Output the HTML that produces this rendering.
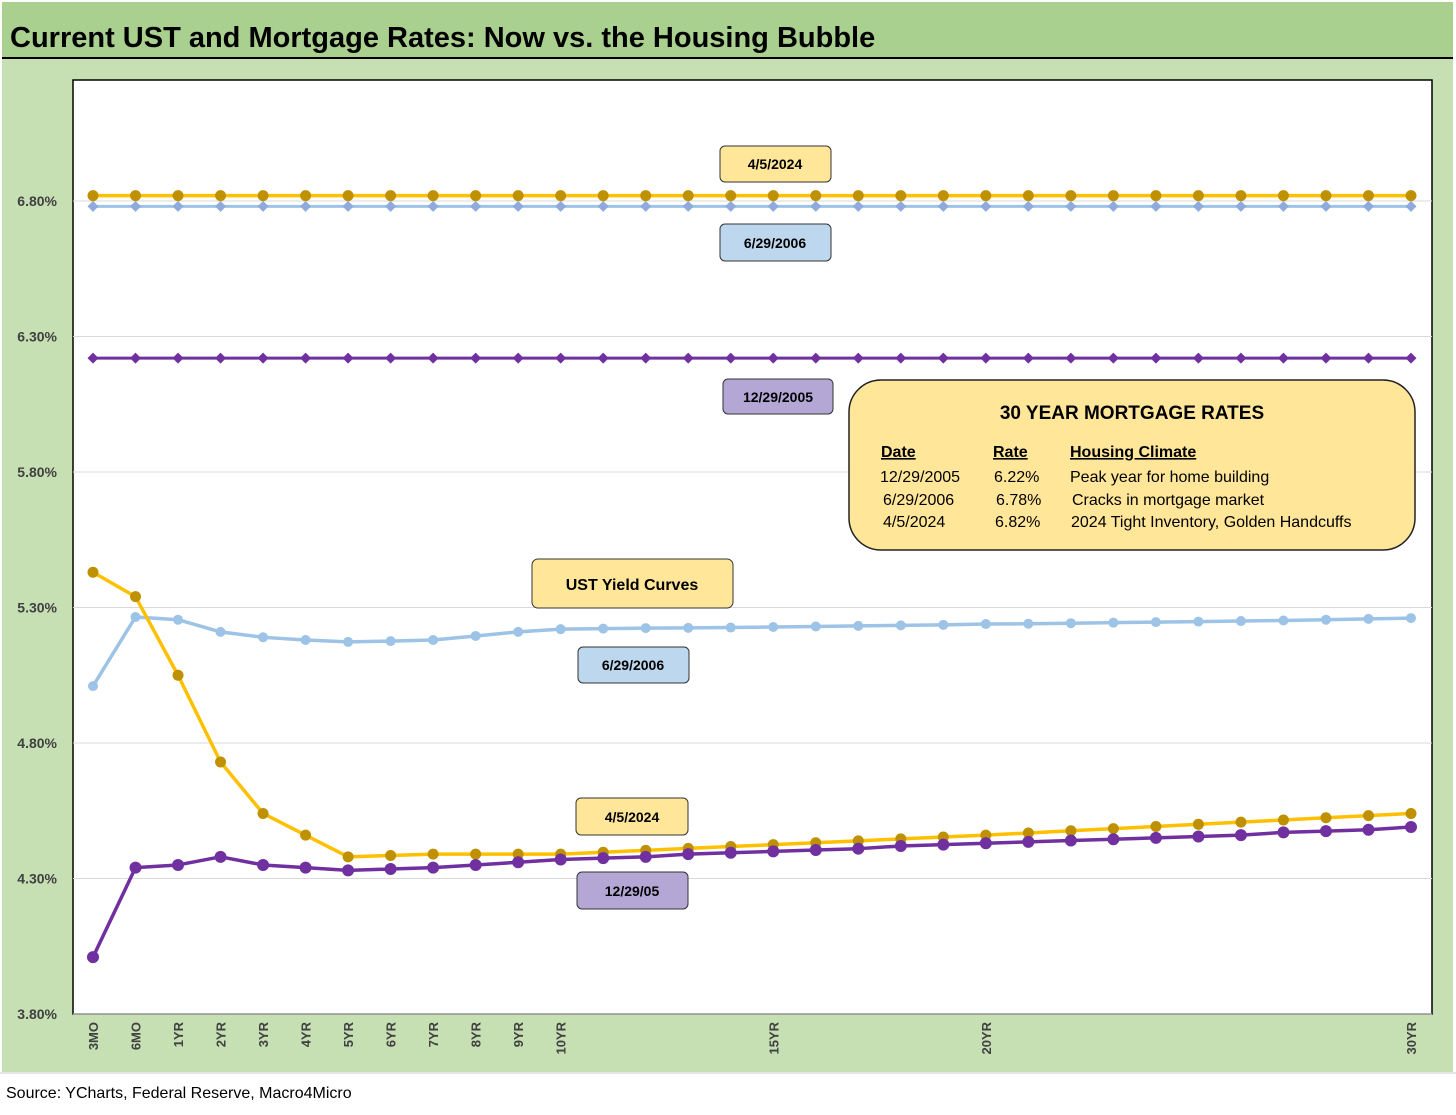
<!DOCTYPE html>
<html><head><meta charset="utf-8"><style>
body{margin:0;width:1456px;height:1110px;background:#fff;overflow:hidden;font-family:"Liberation Sans",sans-serif}
</style></head><body>
<svg width="1456" height="1110" xmlns="http://www.w3.org/2000/svg">
<rect x="2" y="2" width="1451" height="1070" fill="#c6e0b4"/>
<rect x="2" y="2" width="1451" height="55" fill="#a9d08e"/>
<line x1="2" y1="58" x2="1453" y2="58" stroke="#000" stroke-width="2"/>
<text x="10" y="47" font-size="29" font-weight="bold" fill="#000">Current UST and Mortgage Rates: Now vs. the Housing Bubble</text>
<rect x="73" y="80" width="1359" height="934" fill="#fff" stroke="#000" stroke-width="1.5"/>
<g id="grid"></g><g id="series"></g><g id="axes"></g>
<g font-size="14" font-weight="bold" text-anchor="middle">
<rect x="720" y="146" width="111" height="36" rx="5" fill="#ffe699" stroke="#333"/><text x="775" y="169">4/5/2024</text>
<rect x="720" y="224" width="111" height="37" rx="5" fill="#bdd7ee" stroke="#333"/><text x="775" y="248">6/29/2006</text>
<rect x="723" y="379" width="110" height="35" rx="5" fill="#b4a7d6" stroke="#333"/><text x="778" y="402">12/29/2005</text>
<rect x="532" y="559" width="201" height="49" rx="6" fill="#ffe699" stroke="#333"/><text x="632" y="590" font-size="16">UST Yield Curves</text>
<rect x="578" y="647" width="111" height="36" rx="5" fill="#bdd7ee" stroke="#333"/><text x="633" y="670">6/29/2006</text>
<rect x="576" y="798" width="112" height="37" rx="5" fill="#ffe699" stroke="#333"/><text x="632" y="822">4/5/2024</text>
<rect x="577" y="872" width="111" height="37" rx="5" fill="#b4a7d6" stroke="#333"/><text x="632" y="896">12/29/05</text>
</g>
<g font-size="16" fill="#000">
<rect x="849" y="380" width="566" height="170" rx="32" fill="#ffe699" stroke="#222" stroke-width="1.5"/>
<text x="1132" y="419" text-anchor="middle" font-size="19" font-weight="bold">30 YEAR MORTGAGE RATES</text>
<g font-weight="bold" text-decoration="underline"><text x="881" y="457">Date</text><text x="993" y="457">Rate</text><text x="1070" y="457">Housing Climate</text></g>
<text x="880" y="482">12/29/2005</text><text x="994" y="482">6.22%</text><text x="1070" y="482">Peak year for home building</text>
<text x="883" y="505">6/29/2006</text><text x="996" y="505">6.78%</text><text x="1072" y="505">Cracks in mortgage market</text>
<text x="883" y="527">4/5/2024</text><text x="995" y="527">6.82%</text><text x="1071" y="527">2024 Tight Inventory, Golden Handcuffs</text>
</g>
<line x1="0" y1="1073" x2="1456" y2="1073" stroke="#ccc"/>
<text x="6" y="1098" font-size="16" fill="#000">Source: YCharts, Federal Reserve, Macro4Micro</text>
</svg>
<script>
const categories=["3MO","6MO","1YR","2YR","3YR","4YR","5YR","6YR","7YR","8YR","9YR","10YR","11YR","12YR","13YR","14YR","15YR","16YR","17YR","18YR","19YR","20YR","21YR","22YR","23YR","24YR","25YR","26YR","27YR","28YR","29YR","30YR"];
const shownLabels=["3MO","6MO","1YR","2YR","3YR","4YR","5YR","6YR","7YR","8YR","9YR","10YR","15YR","20YR","30YR"];
const yTicks=[3.8,4.3,4.8,5.3,5.8,6.3,6.8];
const ust2024=[5.43,5.34,5.05,4.73,4.54,4.46,4.38,4.385,4.39,4.39,4.39,4.39,4.397,4.404,4.411,4.418,4.425,4.432,4.439,4.446,4.453,4.46,4.468,4.476,4.484,4.492,4.50,4.508,4.516,4.524,4.532,4.54];
const ust2005=[4.01,4.34,4.35,4.38,4.35,4.34,4.33,4.335,4.34,4.35,4.36,4.37,4.375,4.38,4.39,4.395,4.40,4.405,4.41,4.42,4.425,4.43,4.435,4.44,4.445,4.45,4.455,4.46,4.47,4.475,4.48,4.49];
const ust2006=[5.01,5.265,5.255,5.21,5.19,5.18,5.173,5.176,5.18,5.195,5.21,5.22,5.222,5.224,5.225,5.226,5.228,5.23,5.232,5.234,5.236,5.239,5.24,5.242,5.244,5.246,5.248,5.25,5.252,5.255,5.258,5.261];
const mort2024=categories.map(()=>6.82);
const mort2006=categories.map(()=>6.78);
const mort2005=categories.map(()=>6.22);
const NS="http://www.w3.org/2000/svg";
const xS=i=>93+i*(1411-93)/(categories.length-1);
const yS=v=>1014-(v-3.8)*271;
function mk(t,a,p){const e=document.createElementNS(NS,t);for(const k in a)e.setAttribute(k,a[k]);p.appendChild(e);return e;}
const grid=document.getElementById('grid'),axes=document.getElementById('axes'),ser=document.getElementById('series');
yTicks.forEach(v=>{
 const l=mk('line',{x1:73,x2:1432,y1:yS(v),y2:yS(v),stroke:'#d9d9d9'},grid);
 
 
 const t=mk('text',{x:57,y:yS(v)+5,'text-anchor':'end','font-size':14,'font-weight':'bold',fill:'#404040'},axes);
 t.textContent=v.toFixed(2)+'%';
 
 
});
categories.forEach((c,i)=>{
 if(!shownLabels.includes(c))return;
 const x=xS(i)+5,y=1022;
 const t=mk('text',{x:x,y:y,'text-anchor':'end','font-size':13,'font-weight':'bold',fill:'#404040',transform:`rotate(-90 ${x} ${y})`},axes);
 t.textContent=c;
 
 
});
function draw(data,line,marker,shape,lw,r,name){
 const g=mk('g',{},ser);
 
 
 mk('polyline',{points:data.map((v,i)=>xS(i)+','+yS(v)).join(' '),fill:'none',stroke:line,'stroke-width':lw,'stroke-linejoin':'round'},g);
 data.forEach((v,i)=>{
  const x=xS(i),y=yS(v);
  let m;
  if(shape==='d') m=mk('polygon',{points:`${x},${y-r} ${x+r},${y} ${x},${y+r} ${x-r},${y}`,fill:marker},g);
  else m=mk('circle',{cx:x,cy:y,r:r,fill:marker},g);
  
  
 });
}
draw(mort2006,'#9dc3e6','#8faadc','d',3,5.5,'mortgage-2006-line');
draw(mort2024,'#ffc000','#bf9000','c',3.5,5.5,'mortgage-2024-line');
draw(mort2005,'#7030a0','#7030a0','d',3,5.5,'mortgage-2005-line');
draw(ust2006,'#9dc3e6','#9dc3e6','c',3.5,5,'ust-2006-line');
draw(ust2024,'#ffc000','#bf9000','c',3.5,5.5,'ust-2024-line');
draw(ust2005,'#7030a0','#7030a0','c',3.5,6,'ust-2005-line');
</script>
</body></html>
